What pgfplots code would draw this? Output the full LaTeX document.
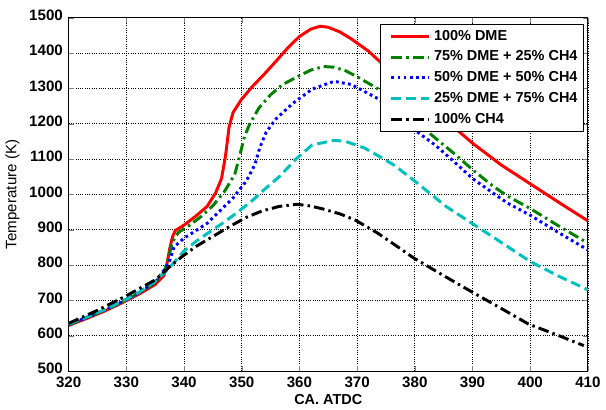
\documentclass[border=0pt]{standalone}
\usepackage{fontspec}
\setmainfont{Liberation Sans}
\usepackage{pgfplots}
\pgfplotsset{compat=1.18}

\definecolor{mred}{RGB}{255,0,0}
\definecolor{mgreen}{RGB}{0,128,0}
\definecolor{mblue}{RGB}{0,0,255}
\definecolor{mcyan}{RGB}{0,191,191}

\begin{document}
\begin{tikzpicture}
\begin{axis}[
    scale only axis,
    width=316pt, height=215pt,
    xmin=320, xmax=410,
    ymin=500, ymax=1500,
    xtick={320,330,...,410},
    ytick={500,600,...,1500},
    tick align=inside,
    major tick length=3pt,
    xmajorgrids, ymajorgrids,
    grid style={densely dotted, black, line width=0.4pt},
    axis line style={line width=0.6pt},
    /pgf/number format/assume math mode=true,
    /pgf/number format/set thousands separator={},
    tick label style={font=\fontsize{9.2}{10}\selectfont\bfseries},
    yticklabel style={yshift=1.5pt},
    xlabel={CA. ATDC},
    ylabel={Temperature (K)},
    xlabel style={font=\fontsize{8.8}{10}\selectfont\bfseries, yshift=3pt},
    ylabel style={font=\fontsize{9.2}{10}\selectfont, yshift=-1pt},
    legend style={at={(0.992,0.983)}, anchor=north east,
        font=\fontsize{8.8}{12.6}\selectfont\bfseries,
        draw=black, line width=0.6pt, inner sep=1.5pt,
        row sep=1pt},
    legend cell align=left,
    legend image code/.code={\path (0pt,0pt); \draw[#1] (4pt,0pt) -- (27pt,0pt);},
]
% 100% DME
\addplot[mred, line width=1.8pt] coordinates {
(320,629) (323,648) (326,668) (329,691) (332,716) (335,745) (336.5,770)
(337.0,800) (337.5,845) (338.0,880) (338.5,898) (340,913) (342,938)
(344,966) (345.5,1005) (346.5,1045) (347.2,1110) (347.8,1190) (348.5,1232)
(350,1270) (352,1308) (354,1342) (356,1378) (358,1415) (360,1447)
(362,1468) (363.6,1476) (365,1473) (367,1460) (369,1440) (372,1405)
(375,1360) (380,1290) (385,1215) (390,1145) (395,1083) (400,1030)
(405,977) (410,925)
};
\addlegendentry{100\% DME}

% 75% DME + 25% CH4
\addplot[mgreen, line width=1.8pt, dash pattern=on 6.5pt off 2.5pt on 1.5pt off 2.5pt] coordinates {
(320,631) (323,650) (326,670) (329,693) (332,719) (335,750) (336.5,778)
(337.2,815) (338,865) (339,892) (341,913) (343,938) (345,968) (347,1008)
(348.8,1057) (349.7,1113) (350.5,1165) (351.4,1200) (353,1245) (355,1282)
(357,1310) (359.5,1332) (362,1352) (364.2,1362) (366,1360) (368,1350)
(370,1333) (373.6,1299) (377,1252) (380,1208) (383,1167) (387,1113)
(390,1070) (393.5,1024) (396,996) (400,960) (405,910) (410,862)
};
\addlegendentry{75\% DME + 25\% CH4}

% 50% DME + 50% CH4
\addplot[mblue, line width=1.8pt, dash pattern=on 1.7pt off 2pt] coordinates {
(320,632) (323,651) (326,671) (329,694) (332,720) (335,752) (336.5,785)
(337.5,812) (338.3,852) (340,876) (342,897) (344,918) (346,950)
(348.5,990) (350.8,1038) (352.3,1085) (353.1,1131) (354.2,1175)
(355.9,1213) (358.8,1257) (362.2,1298) (366,1320) (369,1311)
(373.6,1271) (377,1226) (380,1182) (383.5,1140) (386.7,1094) (390,1045)
(393.8,1001) (396,976) (400,941) (405,891) (410,843)
};
\addlegendentry{50\% DME + 50\% CH4}

% 25% DME + 75% CH4
\addplot[mcyan, line width=1.8pt, dash pattern=on 6pt off 3pt] coordinates {
(320,633) (323,652) (326,672) (329,695) (332,721) (335,754) (337,785)
(338.3,808) (340,840) (342,866) (344,889) (347,922) (349.7,955)
(352,985) (354,1015) (356.5,1050) (359.4,1100) (362.2,1140) (366,1153)
(368,1150) (371.3,1131) (374,1106) (376.4,1083) (379.8,1040)
(385.5,965) (390,917) (393.5,880) (400,810) (405,768) (410,730)
};
\addlegendentry{25\% DME + 75\% CH4}

% 100% CH4
\addplot[black, line width=1.8pt, dash pattern=on 6.5pt off 2.5pt on 1.5pt off 2.5pt] coordinates {
(320,635) (325,672) (330,713) (335,758) (337.5,795) (339.5,822)
(342,852) (345.1,882) (348,910) (350.8,935) (353.5,953) (356.5,966)
(359.6,972) (362,967) (364,959) (367,945) (369.6,928) (373.6,890)
(377,852) (379.8,820) (385,770) (390.1,722) (395,677) (399.7,633)
(405,600) (409.3,572)
};
\addlegendentry{100\% CH4}
\end{axis}
\path (current axis.north) ++(0,10.8pt);
\end{tikzpicture}
\end{document}
